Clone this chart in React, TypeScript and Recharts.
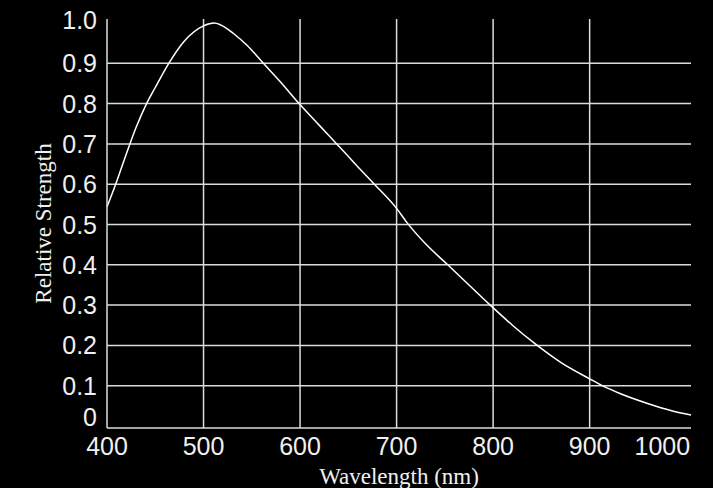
import { LineChart, Line, XAxis, YAxis, ReferenceLine } from 'recharts';

// spectral response
const wavelengths = [400, 409, 420, 430, 441, 450, 464, 480, 500, 511, 525, 531, 545, 562, 580, 599, 620, 638, 660, 677, 700, 711, 730, 753, 775, 797, 820, 844, 870, 900, 913, 932, 960, 985, 1005];
const strengths = [0.544, 0.6, 0.675, 0.74, 0.8, 0.84, 0.9, 0.955, 0.993, 1.0, 0.985, 0.974, 0.945, 0.9, 0.853, 0.8, 0.746, 0.7, 0.643, 0.6, 0.54, 0.504, 0.452, 0.4, 0.35, 0.3, 0.25, 0.203, 0.158, 0.117, 0.1, 0.08, 0.056, 0.038, 0.027];

const xTicks = [400, 500, 600, 700, 800, 900, 1000];
const yTicks = [0, 0.1, 0.2, 0.3, 0.4, 0.5, 0.6, 0.7, 0.8, 0.9, 1.0];
const xGrid = [500, 600, 700, 800, 900];
const yGrid = [0.1, 0.2, 0.3, 0.4, 0.5, 0.6, 0.7, 0.8, 0.9];

const data = wavelengths.map((w, i) => ({ w, v: strengths[i] }));

const LINE = '#dcdcdc';
const TEXT = '#f0f0f0';

function XTick({ x, y, payload }: any) {
  const last = payload.value === 1000;
  return (
    <text x={last ? x + 4 : x} y={y} dy={18} textAnchor={last ? 'end' : 'middle'}
      fill={TEXT} fontSize={25} fontFamily="Liberation Sans, Arial, sans-serif">
      {payload.value}
    </text>
  );
}

function YTick({ x, y, payload }: any) {
  // end labels are nudged up like in the original
  let shift = 0;
  if (payload.value === 0) shift = -8.5;
  if (payload.value === 1) shift = -3;
  return (
    <text x={x} y={y + shift} dy="0.36em" textAnchor="end"
      fill={TEXT} fontSize={25} fontFamily="Liberation Sans, Arial, sans-serif">
      {payload.value === 0 ? '0' : payload.value.toFixed(1)}
    </text>
  );
}

export default function App() {
  return (
    <div style={{ position: 'absolute', left: 0, top: 0, width: 713, height: 488, background: '#000' }}>
      <LineChart width={713} height={488} data={data}
        margin={{ top: 19, right: 22, left: 0, bottom: 0 }}>
        <XAxis dataKey="w" type="number" domain={[400, 1005]} ticks={xTicks} interval={0}
          height={60} tickSize={0} tickMargin={9} tick={<XTick />}
          axisLine={{ stroke: LINE, strokeWidth: 1.5 }} tickLine={false}
          label={({ viewBox }: any) => (
            <text x={viewBox.x + viewBox.width / 2} y={viewBox.y + 56} textAnchor="middle"
              fill={TEXT} fontSize={23} fontFamily="Liberation Serif, Times New Roman, serif">
              Wavelength (nm)
            </text>
          )} />
        <XAxis xAxisId="top" orientation="top" type="number" domain={[400, 1005]} height={0}
          tick={false} tickLine={false} axisLine={{ stroke: LINE, strokeWidth: 1.5 }} />
        <YAxis type="number" domain={[-0.005, 1.01]} ticks={yTicks} interval={0} width={107}
          tickSize={0} tickMargin={10} tick={<YTick />} allowDataOverflow
          axisLine={{ stroke: LINE, strokeWidth: 1.5 }} tickLine={false}
          label={({ viewBox }: any) => {
            const cx = 51;
            const cy = viewBox.y + viewBox.height / 2;
            return (
              <text x={cx} y={cy} transform={`rotate(-90, ${cx}, ${cy})`} textAnchor="middle"
                fill={TEXT} fontSize={23} fontFamily="Liberation Serif, Times New Roman, serif">
                Relative Strength
              </text>
            );
          }} />
        <YAxis yAxisId="right" orientation="right" type="number" domain={[-0.005, 1.01]} width={0}
          tick={false} tickLine={false} axisLine={{ stroke: LINE, strokeWidth: 1.5 }} />
        {xGrid.map(g => (
          <ReferenceLine key={'x' + g} x={g} stroke={LINE} strokeWidth={1.5} />
        ))}
        {yGrid.map(g => (
          <ReferenceLine key={'y' + g} y={g} stroke={LINE} strokeWidth={1.5} />
        ))}
        <Line type="monotone" dataKey="v" stroke="#ffffff" strokeWidth={1.5} dot={false}
          isAnimationActive={false} />
      </LineChart>
    </div>
  );
}
